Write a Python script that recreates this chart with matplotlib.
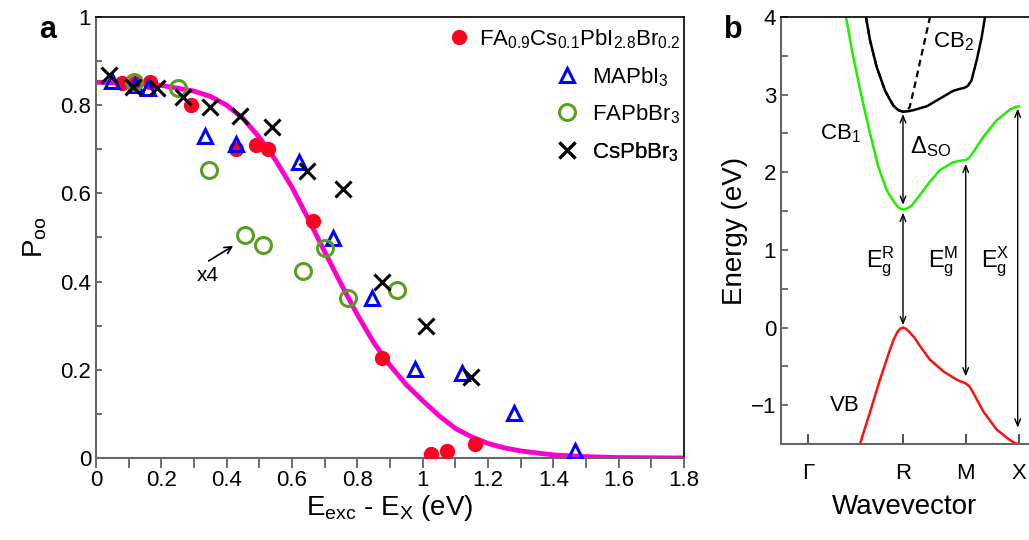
import matplotlib
matplotlib.use("Agg")
import matplotlib.pyplot as plt
from matplotlib.ticker import MultipleLocator

plt.rcParams['font.family'] = ['Liberation Sans', 'DejaVu Sans']
plt.rcParams['mathtext.fontset'] = 'custom'
plt.rcParams['mathtext.rm'] = 'Liberation Sans'
plt.rcParams['mathtext.it'] = 'Liberation Sans:italic'

# ---- panel a data: P_oo vs excess energy ----
red_x = [0.08, 0.12, 0.165, 0.29, 0.43, 0.49, 0.525, 0.665, 0.875, 1.025, 1.075, 1.16]
red_y = [0.85, 0.85, 0.852, 0.80, 0.70, 0.71, 0.70, 0.538, 0.226, 0.01, 0.017, 0.031]
blue_x = [0.05, 0.12, 0.16, 0.335, 0.43, 0.62, 0.725, 0.845, 0.975, 1.12, 1.28, 1.465]
blue_y = [0.855, 0.845, 0.84, 0.73, 0.712, 0.672, 0.50, 0.363, 0.202, 0.193, 0.102, 0.017]
green_x = [0.115, 0.25, 0.345, 0.455, 0.51, 0.635, 0.70, 0.77, 0.92]
green_y = [0.853, 0.84, 0.652, 0.505, 0.482, 0.424, 0.477, 0.362, 0.382]
black_x = [0.04, 0.112, 0.186, 0.265, 0.35, 0.44, 0.54, 0.645, 0.757, 0.876, 1.01, 1.148]
black_y = [0.869, 0.842, 0.838, 0.818, 0.797, 0.776, 0.75, 0.651, 0.61, 0.399, 0.30, 0.184]

fit_x = [0.0, 0.1, 0.2, 0.3, 0.35, 0.4, 0.45, 0.5, 0.55, 0.6, 0.65, 0.7, 0.75, 0.8,
         0.85, 0.9, 0.95, 1.0, 1.05, 1.1, 1.15, 1.2, 1.25, 1.3, 1.4, 1.5, 1.6, 1.8]
fit_y = [0.852, 0.85, 0.845, 0.832, 0.82, 0.80, 0.77, 0.727, 0.675, 0.614, 0.542, 0.468,
         0.395, 0.325, 0.262, 0.21, 0.166, 0.13, 0.096, 0.067, 0.048, 0.033, 0.023,
         0.016, 0.007, 0.003, 0.001, 0.0]

labels = [r'FA$_{0.9}$Cs$_{0.1}$PbI$_{2.8}$Br$_{0.2}$', r'MAPbI$_3$', r'FAPbBr$_3$', r'CsPbBr$_3$']

# x4 note on the scaled FAPbBr3 point
note_xy = (0.343, 0.413)
note_tail = (0.345, 0.447)
note_head = (0.42, 0.481)

# ---- panel b data: band structure (k: Gamma=0, R=1) ----
k_ticks = [0.0, 1.0, 1.66, 2.221]
k_names = ['Γ', 'R', 'M', 'X']

cb1_k = [0.40, 0.477, 0.565, 0.653, 0.74, 0.828, 0.88, 0.916, 0.95, 0.98, 1.0, 1.03, 1.06,
         1.09, 1.18, 1.284, 1.39, 1.53, 1.61, 1.66, 1.70, 1.74, 1.845, 1.986, 2.126,
         2.18, 2.221]
cb1_E = [4.0, 3.48, 2.97, 2.50, 2.07, 1.77, 1.665, 1.60, 1.55, 1.527, 1.52, 1.525, 1.545,
         1.57, 1.71, 1.88, 2.03, 2.13, 2.15, 2.158, 2.19, 2.26, 2.455, 2.67, 2.81,
         2.84, 2.85]

cb2_k = [0.61, 0.653, 0.723, 0.81, 0.86, 0.898, 0.95, 1.0, 1.05, 1.11, 1.25, 1.39, 1.53,
         1.60, 1.64, 1.68, 1.72, 1.775, 1.828, 1.863]
cb2_E = [4.0, 3.70, 3.355, 3.055, 2.94, 2.86, 2.80, 2.78, 2.785, 2.80, 2.85, 2.95, 3.05,
         3.075, 3.085, 3.11, 3.18, 3.44, 3.74, 4.0]

cb2d_k = [0.61, 0.653, 0.723, 0.81, 0.86, 0.898, 0.95, 1.0, 1.04, 1.07, 1.13, 1.2, 1.284]
cb2d_E = [4.0, 3.70, 3.355, 3.055, 2.94, 2.86, 2.80, 2.78, 2.79, 2.84, 3.15, 3.54, 4.0]

vb_k = [0.547, 0.65, 0.75, 0.85, 0.90, 0.94, 0.97, 1.0, 1.03, 1.07, 1.12, 1.18, 1.284,
        1.425, 1.565, 1.62, 1.66, 1.70, 1.74, 1.845, 1.986, 2.126, 2.18, 2.221]
vb_E = [-1.5, -1.10, -0.70, -0.33, -0.16, -0.06, -0.015, 0.0, -0.015, -0.06, -0.13,
        -0.24, -0.415, -0.565, -0.672, -0.70, -0.72, -0.76, -0.843, -1.08, -1.315,
        -1.45, -1.49, -1.5]

arr_k = [1.0, 1.0, 1.66, 2.207]
arr_lo = [0.03, 1.58, -0.63, -1.29]
arr_hi = [1.48, 2.75, 2.11, 2.82]

fig = plt.figure(figsize=(10.29, 5.4), dpi=100)
W, H = 1029.0, 540.0

# ================= panel a =================
ax = fig.add_axes([96 / W, (H - 458) / H, 588 / W, 441 / H])
ax.plot(fit_x, fit_y, color='#ff00cc', lw=3.5, zorder=2)
h_red, = ax.plot(red_x, red_y, 'o', color='#ff0022', ms=11, mec='none', zorder=3)
h_blue, = ax.plot(blue_x, blue_y, '^', color='#0000ff', mfc='none', ms=10, mew=2.2, zorder=4)
h_green, = ax.plot(green_x, green_y, 'o', color='#5a9e22', mfc='none', ms=11.5, mew=2.2, zorder=4)
h_black, = ax.plot(black_x, black_y, 'x', color='black', ms=11, mew=2.2, zorder=5)

ax.set_xlim(0, 1.8)
ax.set_ylim(0, 1)
ax.xaxis.set_minor_locator(MultipleLocator(0.1))
ax.yaxis.set_minor_locator(MultipleLocator(0.1))
ax.set_xticks([0, 0.2, 0.4, 0.6, 0.8, 1.0, 1.2, 1.4, 1.6, 1.8])
ax.set_xticklabels(['0', '0.2', '0.4', '0.6', '0.8', '1', '1.2', '1.4', '1.6', '1.8'])
ax.set_yticks([0, 0.2, 0.4, 0.6, 0.8, 1.0])
ax.set_yticklabels(['0', '0.2', '0.4', '0.6', '0.8', '1'])
ax.tick_params(axis='x', which='both', direction='out', length=7, width=1.2,
               color='#555555', labelsize=16, pad=2)
ax.tick_params(axis='y', which='both', direction='in', length=4, width=1.2,
               color='#555555', labelsize=16)
for s in ['left', 'bottom']:
    ax.spines[s].set_color('#666666')
    ax.spines[s].set_linewidth(1.5)
for s in ['top', 'right']:
    ax.spines[s].set_linewidth(1.2)
ax.set_xlabel(r'E$_{\rm exc}$ - E$_{\rm X}$ (eV)', fontsize=20, labelpad=1)
ax.set_ylabel(r'P$_{\rm oo}$', fontsize=20, labelpad=8)

ax.text(note_xy[0], note_xy[1], 'x4', fontsize=15, ha='center', va='center')
ax.annotate('', xy=note_head, xytext=note_tail,
            arrowprops=dict(arrowstyle='->,head_length=0.5,head_width=0.25', lw=1.2,
                            color='black', shrinkA=0, shrinkB=0))

# legends: first entry on its own row, the others aligned together
leg_specs = [(h_red, labels[0], 448, 43, 0.4),
             (h_blue, labels[1], 556, 81, 0.6),
             (h_green, labels[2], 556, 118, 0.6),
             (h_black, labels[3], 556, 156, 0.6)]
for h, lab, px, py, pad in leg_specs:
    leg = ax.legend([h], [lab], loc='center left',
                    bbox_to_anchor=((px - 96) / 588, (458 - py + 4) / 441),
                    frameon=False, fontsize=16, handlelength=1.0, handletextpad=pad,
                    borderpad=0, borderaxespad=0)
    ax.add_artist(leg)

fig.text(48 / W, 1 - 30 / H, 'a', fontsize=22, fontweight='bold', ha='center', va='center')

# ================= panel b =================
bx = fig.add_axes([781 / W, (H - 444) / H, 1 - 781 / W, 427 / H])
bx.plot(cb2d_k, cb2d_E, color='black', lw=1.6, ls=(0, (3, 2)))
bx.plot(cb2_k, cb2_E, color='black', lw=1.8)
bx.plot(cb1_k, cb1_E, color='#22ee00', lw=1.8)
bx.plot(vb_k, vb_E, color='#ff1010', lw=1.8)

for k, lo, hi in zip(arr_k, arr_lo, arr_hi):
    bx.annotate('', xy=(k, hi), xytext=(k, lo),
                arrowprops=dict(arrowstyle='<->,head_length=0.5,head_width=0.2',
                                lw=1.0, color='black', shrinkA=0, shrinkB=0))

bx.text(1.53, 3.68, r'CB$_2$', fontsize=16, ha='center', va='center')
bx.text(0.34, 2.5, r'CB$_1$', fontsize=16, ha='center', va='center')
bx.text(1.29, 2.33, r'$\Delta_{\rm SO}$', fontsize=17, ha='center', va='center')
bx.text(0.76, 0.85, r'E$_{\rm g}^{\rm R}$', fontsize=17, ha='center', va='center')
bx.text(1.42, 0.85, r'E$_{\rm g}^{\rm M}$', fontsize=17, ha='center', va='center')
bx.text(1.97, 0.85, r'E$_{\rm g}^{\rm X}$', fontsize=17, ha='center', va='center')
bx.text(0.39, -1.0, 'VB', fontsize=16, ha='center', va='center')

bx.set_xlim(-0.284, 2.326)
bx.set_ylim(-1.5, 4)
bx.set_xticks(k_ticks)
bx.set_xticklabels(k_names)
bx.yaxis.set_major_locator(MultipleLocator(1))
bx.yaxis.set_minor_locator(MultipleLocator(0.5))
bx.tick_params(axis='x', direction='in', length=7, width=1.2, color='#333333',
               labelsize=16, pad=14)
bx.tick_params(axis='y', which='both', direction='in', length=5, width=1.2,
               color='#555555', labelsize=16)
bx.spines['right'].set_visible(False)
for s in ['left', 'bottom']:
    bx.spines[s].set_color('#666666')
    bx.spines[s].set_linewidth(1.5)
bx.spines['top'].set_linewidth(1.2)
bx.set_xlabel('Wavevector', fontsize=20, labelpad=7)
bx.set_ylabel('Energy (eV)', fontsize=20, labelpad=2)

fig.text(733 / W, 1 - 30 / H, 'b', fontsize=22, fontweight='bold', ha='center', va='center')

fig.savefig('out.png', dpi=100)
